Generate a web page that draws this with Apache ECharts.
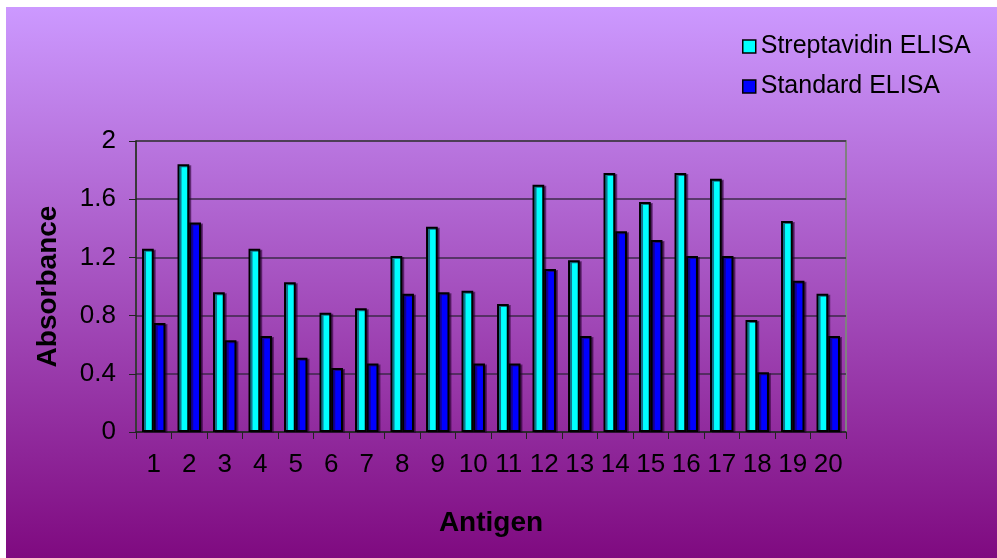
<!DOCTYPE html>
<html><head><meta charset="utf-8">
<script src="https://cdn.jsdelivr.net/npm/echarts@6/dist/echarts.min.js"></script>
<style>
html,body{margin:0;padding:0;background:#fff;}
#bg{position:absolute;left:6px;top:7px;width:991px;height:551px;background:linear-gradient(to bottom,#cc99ff 0%,#7f0a80 100%);}
#c{position:absolute;left:0;top:0;width:997px;height:558px;}
</style></head>
<body>
<div id="bg"></div>
<div id="c"></div>
<script>
const categories = ['1','2','3','4','5','6','7','8','9','10','11','12','13','14','15','16','17','18','19','20'];
const streptavidin = [1.26,1.84,0.96,1.26,1.03,0.82,0.85,1.21,1.41,0.97,0.88,1.70,1.18,1.78,1.58,1.78,1.74,0.77,1.45,0.95];
const standard = [0.75,1.44,0.63,0.66,0.51,0.44,0.47,0.95,0.96,0.47,0.47,1.12,0.66,1.38,1.32,1.21,1.21,0.41,1.04,0.66];
const yTicks = [0,0.4,0.8,1.2,1.6,2];

const chart = echarts.init(document.getElementById('c'));
const font = 'Arial, "Liberation Sans", sans-serif';
const barStyle = (c) => ({color:c,borderColor:'#000',borderWidth:2,shadowColor:'rgba(40,0,50,0.55)',shadowOffsetX:2,shadowOffsetY:1,shadowBlur:0});
chart.setOption({
  animation:false,
  backgroundColor:'transparent',
  textStyle:{fontFamily:font},
  legend:{
    orient:'vertical', left:737, top:29, itemGap:15, itemWidth:13, itemHeight:13,
    textStyle:{fontSize:25,color:'#000',fontFamily:font},
    icon:'rect',
    data:[{name:'Streptavidin ELISA',itemStyle:{borderColor:'#000',borderWidth:1.5}},{name:'Standard ELISA',itemStyle:{borderColor:'#000',borderWidth:1.5}}]
  },
  grid:{left:136,top:141,width:710,height:291,show:true,borderColor:'#808080',borderWidth:2,backgroundColor:'transparent'},
  xAxis:{
    type:'category', data:categories,
    axisLine:{lineStyle:{color:'#222',width:1.5}},
    axisTick:{show:true,length:7,lineStyle:{color:'#222'}},
    axisLabel:{fontSize:26,color:'#000',margin:20,fontFamily:font,interval:0},
    name:'Antigen', nameLocation:'middle', nameGap:77,
    nameTextStyle:{fontSize:28,fontWeight:'bold',color:'#000',fontFamily:font}
  },
  yAxis:{
    type:'value', min:0, max:2, interval:0.4,
    axisLine:{show:true,lineStyle:{color:'#222',width:1.5}},
    axisTick:{show:true,length:7,lineStyle:{color:'#222'}},
    axisLabel:{fontSize:26,color:'#000',margin:20,fontFamily:font,formatter:v=>String(+v.toFixed(1))},
    splitLine:{lineStyle:{color:'#3c2848',width:1.5}},
    name:'Absorbance', nameLocation:'middle', nameGap:74, nameRotate:90,
    nameTextStyle:{fontSize:28,fontWeight:'bold',color:'#000',fontFamily:font}
  },
  series:[
    {name:'Streptavidin ELISA',type:'bar',data:streptavidin,barGap:'0%',barCategoryGap:'34%',itemStyle:barStyle('#00ffff')},
    {name:'Standard ELISA',type:'bar',data:standard,barGap:'0%',barCategoryGap:'34%',itemStyle:barStyle('#0000ff')}
  ]
});
</script>
</body></html>
